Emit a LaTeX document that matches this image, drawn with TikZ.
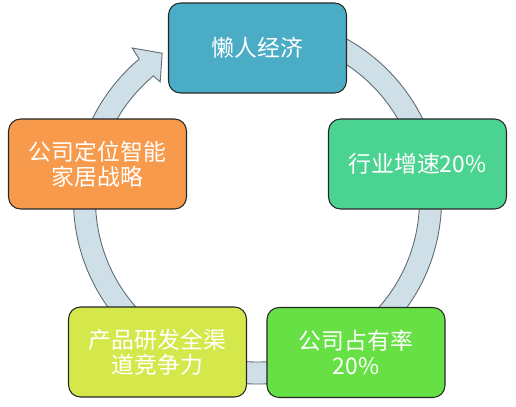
\documentclass[tikz,border=0pt]{standalone}
\usepackage{fontspec}
\newfontfamily\cjk{Noto Sans CJK SC}
\usetikzlibrary{calc}
\definecolor{lazyblue}{HTML}{4BACC6}
\definecolor{growthgreen}{HTML}{4BD491}
\definecolor{sharegreen}{HTML}{66E045}
\definecolor{rndyellow}{HTML}{D5E84B}
\definecolor{planorange}{HTML}{F79A4C}
\definecolor{bandfill}{HTML}{CFDFE7}
\definecolor{bandedge}{HTML}{5E6A72}

\begin{document}
\begin{tikzpicture}[x=0.02cm, y=0.02cm,
                stage/.style={draw=black!85, line width=0.6pt, rounded corners=0.24cm, minimum width=3.56cm, minimum height=1.8cm, align=center, text=white, font=\cjk\fontsize{13}{14.2}\selectfont},
                band/.style={fill=bandfill, draw=bandedge, line width=0.5pt}
            ]
            \useasboundingbox (0,0) rectangle (516,406);

            % Kreispfeil
            \coordinate (hub) at (257.5,206);
            \draw[band, shift={(hub)}] (80:184) arc[start angle=80, end angle=-230, radius=184] -- (-230.5:197) -- (-237:175) -- (-230.5:153) -- (-230:162) arc[start angle=-230, end angle=80, radius=162] -- cycle;

            % Knoten
            \node[stage, fill=lazyblue] (lazy) at (257.5,358) {懒人经济};
            \node[stage, fill=growthgreen] (growth) at (417.5,242) {行业增速20\%};
            \node[stage, fill=sharegreen] (share) at (356,53.5) {公司占有率\\20\%};
            \node[stage, fill=rndyellow] (rnd) at (157.5,54) {产品研发全渠\\道竞争力};
            \node[stage, fill=planorange] (plan) at (97.5,242) {公司定位智能\\家居战略};

        \end{tikzpicture}
\end{document}
